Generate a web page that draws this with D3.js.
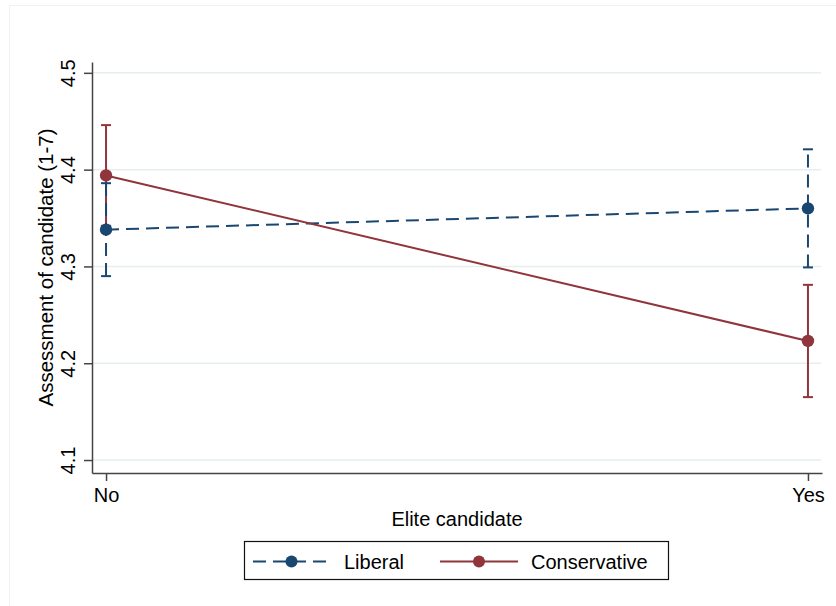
<!DOCTYPE html>
<html>
<head>
<meta charset="utf-8">
<script src="https://cdn.jsdelivr.net/npm/d3@7/dist/d3.min.js"></script>
<style>
  html, body { margin: 0; padding: 0; background: #fff; }
  svg { display: block; font-family: "Liberation Sans", Arial, Helvetica, sans-serif; }
</style>
</head>
<body>
<svg id="chart" width="836" height="606"></svg>
<script>
// Predictive margins: candidate assessment by elite status and ideology
const categories = ["No", "Yes"];
const seriesNames = ["Liberal", "Conservative"];
const liberalMean = [4.338, 4.360];
const liberalLower = [4.290, 4.299];
const liberalUpper = [4.386, 4.421];
const conservativeMean = [4.394, 4.223];
const conservativeLower = [4.342, 4.165];
const conservativeUpper = [4.446, 4.281];
const yTicks = [4.1, 4.2, 4.3, 4.4, 4.5];
const xTitle = "Elite candidate";
const yTitle = "Assessment of candidate (1-7)";

const colors = { Liberal: "#1a476f", Conservative: "#90353b" };
const dash = { Liberal: "13,7", Conservative: null };

const series = [
  { name: "Liberal", mean: liberalMean, lo: liberalLower, hi: liberalUpper },
  { name: "Conservative", mean: conservativeMean, lo: conservativeLower, hi: conservativeUpper }
];

const svg = d3.select("#chart");

// faint outer frame
svg.append("path")
  .attr("d", "M9.5,606V5.5H836")
  .attr("fill", "none")
  .attr("stroke", "#f1f1f1")
  .attr("stroke-width", 1);

const plot = { left: 92, right: 822, top: 62, bottom: 473 };

const x = d3.scaleLinear().domain([-0.02, 1.02]).range([plot.left, plot.right]);
const y = d3.scaleLinear().domain([4.0866, 4.5112]).range([plot.bottom, plot.top]);

// gridlines
svg.append("g")
  .selectAll("line")
  .data(yTicks)
  .join("line")
  .attr("x1", plot.left).attr("x2", plot.right - 1)
  .attr("y1", d => y(d)).attr("y2", d => y(d))
  .attr("stroke", "#e6eeee")
  .attr("stroke-width", 1.5);

// y axis
const yAxis = svg.append("g")
  .attr("transform", `translate(${plot.left},0)`)
  .call(d3.axisLeft(y).tickValues(yTicks).tickFormat(d3.format(".1f")).tickSize(8).tickSizeOuter(0));
yAxis.select(".domain").attr("stroke", "#444").attr("stroke-width", 1.5);
yAxis.selectAll(".tick line").attr("stroke", "#444").attr("stroke-width", 1.5);
yAxis.selectAll(".tick text")
  .attr("font-size", 20)
  .attr("fill", "#000")
  .attr("font-family", "Liberation Sans, Arial, sans-serif")
  .attr("text-anchor", "middle")
  .attr("x", 0).attr("dy", 0).attr("y", 0)
  .attr("transform", "translate(-17,0) rotate(-90)");

// x axis
const xAxis = svg.append("g")
  .attr("transform", `translate(0,${plot.bottom})`)
  .call(d3.axisBottom(x).tickValues([0, 1]).tickFormat(i => categories[i]).tickSize(8).tickSizeOuter(0));
xAxis.select(".domain").attr("stroke", "#444").attr("stroke-width", 1.5);
xAxis.selectAll(".tick line").attr("stroke", "#444").attr("stroke-width", 1.5);
xAxis.selectAll(".tick text")
  .attr("font-size", 20)
  .attr("fill", "#000")
  .attr("font-family", "Liberation Sans, Arial, sans-serif")
  .attr("dy", 0)
  .attr("y", 28.5);

// axis titles
svg.append("text")
  .attr("x", (plot.left + plot.right) / 2)
  .attr("y", 525.5)
  .attr("text-anchor", "middle")
  .attr("font-size", 20)
  .attr("fill", "#000")
  .text(xTitle);

svg.append("text")
  .attr("transform", `translate(53,${(plot.top + plot.bottom) / 2}) rotate(-90)`)
  .attr("text-anchor", "middle")
  .attr("font-size", 20.5)
  .attr("fill", "#000")
  .text(yTitle);

// confidence intervals (conservative first, liberal on top)
const capHalf = 5;
const drawCI = s => {
  const g = svg.append("g")
    .attr("stroke", colors[s.name])
    .attr("stroke-width", 2)
    .attr("fill", "none");
  s.mean.forEach((m, i) => {
    g.append("line")
      .attr("x1", x(i)).attr("x2", x(i))
      .attr("y1", y(s.lo[i])).attr("y2", y(s.hi[i]))
      .attr("stroke-dasharray", dash[s.name]);
    [s.lo[i], s.hi[i]].forEach(v => {
      g.append("line")
        .attr("x1", x(i) - capHalf).attr("x2", x(i) + capHalf)
        .attr("y1", y(v)).attr("y2", y(v));
    });
  });
};
drawCI(series[1]);
drawCI(series[0]);

// connected lines and markers
const line = d3.line().x((d, i) => x(i)).y(d => y(d));
series.forEach(s => {
  svg.append("path")
    .datum(s.mean)
    .attr("d", line)
    .attr("fill", "none")
    .attr("stroke", colors[s.name])
    .attr("stroke-width", 2)
    .attr("stroke-dasharray", dash[s.name]);
  svg.append("g")
    .selectAll("circle")
    .data(s.mean)
    .join("circle")
    .attr("cx", (d, i) => x(i))
    .attr("cy", d => y(d))
    .attr("r", 6.2)
    .attr("fill", colors[s.name]);
});

// legend
const legend = svg.append("g");
legend.append("rect")
  .attr("x", 244.5).attr("y", 541.5)
  .attr("width", 424).attr("height", 38)
  .attr("fill", "#fff")
  .attr("stroke", "#111")
  .attr("stroke-width", 1.2);

const legendItems = [
  { name: "Liberal", x0: 253, x1: 330, tx: 344 },
  { name: "Conservative", x0: 440, x1: 518, tx: 531 }
];
legendItems.forEach(it => {
  const ly = 561.5;
  legend.append("line")
    .attr("x1", it.x0).attr("x2", it.x1)
    .attr("y1", ly).attr("y2", ly)
    .attr("stroke", colors[it.name])
    .attr("stroke-width", 2)
    .attr("stroke-dasharray", dash[it.name]);
  legend.append("circle")
    .attr("cx", (it.x0 + it.x1) / 2).attr("cy", ly)
    .attr("r", 6)
    .attr("fill", colors[it.name]);
  legend.append("text")
    .attr("x", it.tx).attr("y", ly + 7.5)
    .attr("font-size", 20)
    .attr("fill", "#000")
    .text(it.name);
});
</script>
</body>
</html>
